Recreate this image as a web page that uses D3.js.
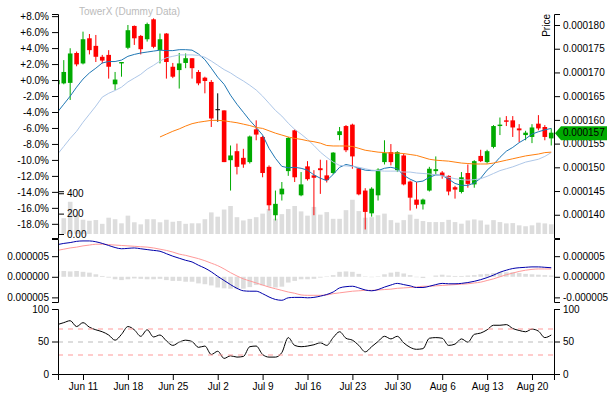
<!DOCTYPE html>
<html>
<head>
<meta charset="utf-8">
<script src="https://cdn.jsdelivr.net/npm/d3@7"></script>
<style>
body { margin: 0; background: #fff; }
svg { font: 10px "Liberation Sans", Arial, sans-serif; }
.tick text { font-family: "Liberation Sans", Arial, sans-serif; }
</style>
</head>
<body>
<script>
// prices are written in millionths
var PRICE_UNIT = 1e-6;

// one candle per day, Jun 7 .. Aug 23
var dates = d3.timeDay.range(new Date(2017, 5, 7), new Date(2017, 7, 24));

var open = [167.5,167.7,167.8,174.1,171.9,177.2,175.6,173.3,173.7,167.5,
  171.9,175.2,179.8,177.7,177.0,181.2,174.7,178.2,171.2,170.5,
  172.0,173.0,170.1,168.9,168.0,162.25,162.0,151.5,153.4,152.0,
  151.1,158.0,156.4,150.1,139.9,144.3,149.2,157.8,144.1,150.2,
  148.3,149.8,148.3,148.8,156.8,158.7,159.0,149.8,145.1,140.3,
  144.1,151.1,153.2,149.4,152.5,147.0,143.2,142.2,145.1,149.2,
  148.9,148.2,145.8,144.8,148.8,146.4,152.4,151.1,154.3,158.7,
  159.9,159.9,158.2,156.8,156.4,159.2,158.5,156.1];
var high = [168.8,172.6,175.1,174.4,178.6,178.1,177.9,173.7,174.7,170.1,
  172.2,180.0,179.9,177.9,180.5,181.4,178.2,178.3,172.0,174.1,
  174.0,173.0,170.5,169.1,168.4,165.6,162.0,154.6,155.0,153.9,
  156.7,159.9,156.6,150.4,145.1,146.9,156.4,158.0,149.0,151.3,
  149.4,151.6,151.5,153.2,158.5,158.9,159.2,149.9,145.6,145.8,
  149.8,155.7,154.9,153.4,152.9,147.2,146.9,143.4,150.1,152.3,
  149.2,148.3,146.1,149.0,150.6,151.5,153.7,153.7,158.9,160.5,
  160.8,160.8,159.1,157.7,159.1,161.0,158.9,158.2];
var low = [167.1,167.5,164.2,171.3,171.7,173.8,172.2,171.9,168.7,166.3,
  169.1,174.9,175.8,173.8,176.5,175.1,171.9,168.7,168.8,166.6,
  170.9,168.7,167.3,165.6,158.5,159.6,151.1,145.1,148.5,149.9,
  150.8,155.7,147.9,140.9,138.8,143.0,148.2,146.9,143.9,147.2,
  139.9,144.4,146.8,148.5,155.7,153.2,149.7,144.1,136.9,139.6,
  143.0,150.6,150.4,149.0,146.2,140.9,141.3,141.1,144.9,148.5,
  147.6,144.1,143.4,144.5,145.7,145.7,151.1,150.8,154.0,156.8,
  158.7,156.4,155.3,155.7,155.1,157.8,155.7,154.6];
var close = [168.4,170.1,174.0,171.7,177.0,174.7,173.3,172.5,171.2,168.5,
  172.2,178.9,177.2,174.9,180.2,175.4,177.0,172.2,169.1,171.9,
  173.0,170.9,167.7,168.2,160.3,162.25,151.1,152.5,150.1,150.6,
  156.5,156.9,148.8,142.0,142.3,145.5,156.2,147.9,146.4,147.5,
  147.8,149.4,147.3,153.1,157.6,153.6,152.3,144.3,140.6,145.5,
  149.5,153.0,151.1,153.2,146.4,143.6,142.1,143.2,149.7,149.6,
  148.2,144.9,145.3,147.9,146.5,151.3,151.3,153.4,158.7,159.0,
  159.6,158.4,157.8,157.3,158.4,158.2,156.4,157.3];
var volume = [100,155,316,190,140,130,137,100,160,145,
  105,180,115,95,145,145,115,140,120,127,
  100,105,105,145,212,170,240,275,165,133,
  148,165,200,245,150,195,245,275,222,180,
  266,190,215,149,149,234,336,225,160,165,
  184,200,136,111,136,190,149,127,117,117,
  117,139,117,101,133,143,133,92,136,117,
  104,107,85,76,85,111,104,95];

// moving averages (millionths)
var sma0 = [161.6,163.3,165.0,166.9,168.6,169.9,170.9,172.0,172.3,172.3,
  172.6,173.4,173.8,174.1,174.3,174.5,174.7,174.6,174.6,174.8,
  174.8,174.7,173.9,172.7,170.9,169.0,167.5,165.2,163.3,161.6,
  159.9,158.4,156.8,154.0,151.9,150.2,149.9,150.0,149.8,149.4,
  148.4,147.7,147.2,148.5,150.0,150.6,150.3,149.8,149.4,149.3,
  149.3,149.8,150.0,149.7,148.3,147.5,146.9,147.1,147.9,148.4,
  148.3,147.5,146.6,146.2,146.2,146.7,147.7,149.4,150.6,152.1,
  153.4,154.2,155.2,156.0,157.0,157.5,157.9,158.2];
var sma1 = [152.7,154.4,156.1,157.6,159.5,161.2,162.9,164.8,165.6,166.2,
  166.9,168.0,168.8,169.6,170.7,171.5,172.4,173.1,173.4,173.7,
  173.7,173.7,173.6,173.2,172.4,171.5,170.6,169.9,169.0,168.2,
  167.3,166.3,165.0,163.5,162.0,160.8,159.3,158.0,157.0,155.9,
  154.6,153.2,152.1,151.1,150.4,150.3,150.2,150.0,149.7,149.4,
  149.3,149.2,149.2,149.2,149.0,149.0,148.8,148.7,148.6,148.4,
  148.2,147.9,147.6,147.4,147.3,147.4,147.6,148.1,148.7,149.3,
  149.7,150.1,150.6,151.1,151.4,151.7,152.3,153.1];
var ema2 = [null,null,null,null,null,null,null,null,null,null,
  null,null,null,null,null,null,156.4,157.0,157.6,158.1,
  158.7,159.2,159.5,159.7,159.9,159.9,159.8,159.6,159.4,159.1,
  158.8,158.4,158.2,157.7,157.2,156.8,156.4,156.1,155.9,155.6,
  155.4,155.1,154.6,154.5,154.5,154.5,154.4,154.0,153.6,153.4,
  153.2,153.1,153.0,153.0,152.9,152.7,152.5,152.1,151.7,151.5,
  151.4,151.3,151.1,150.9,150.8,150.7,150.7,150.7,150.9,151.2,
  151.5,151.8,152.1,152.4,152.6,152.8,153.1,153.2];

// MACD panel (millionths)
var macd = [7.8,8.1,8.3,8.6,8.7,8.7,8.5,8.1,7.6,7.1,
  6.8,6.9,7.0,6.8,6.6,6.4,6.2,5.6,5.0,4.5,
  4.0,3.6,2.8,2.1,1.2,0.1,-0.9,-1.9,-2.8,-3.4,
  -3.5,-3.5,-4.1,-4.9,-5.5,-5.7,-5.1,-5.0,-5.0,-5.1,
  -5.0,-4.7,-4.3,-3.7,-2.7,-2.4,-2.3,-2.7,-3.2,-3.4,
  -3.1,-2.5,-2.0,-1.6,-1.9,-2.2,-2.6,-2.6,-2.3,-1.9,
  -1.6,-1.7,-1.7,-1.6,-1.4,-1.1,-0.7,-0.2,0.4,1.1,
  1.6,2.0,2.2,2.3,2.4,2.4,2.3,2.2];
var signal = [6.4,6.7,7.0,7.2,7.5,7.7,7.9,7.9,7.8,7.7,
  7.6,7.5,7.4,7.3,7.2,7.0,6.7,6.4,6.0,5.5,
  5.2,4.8,4.4,3.9,3.3,2.7,1.9,1.0,0.2,-0.5,
  -1.0,-1.5,-2.0,-2.5,-2.9,-3.3,-3.7,-4.0,-4.4,-4.5,
  -4.5,-4.5,-4.4,-4.1,-3.9,-3.7,-3.5,-3.4,-3.3,-3.3,
  -3.2,-3.1,-3.0,-2.8,-2.7,-2.6,-2.5,-2.3,-2.3,-2.2,
  -2.1,-2.0,-1.9,-1.8,-1.7,-1.5,-1.3,-0.9,-0.5,0.0,
  0.5,0.9,1.3,1.6,1.8,1.9,1.9,1.9];
var difference = [1.4,1.4,1.3,1.4,1.2,1.0,0.6,0.2,-0.2,-0.6,
  -0.8,-0.6,-0.4,-0.5,-0.6,-0.6,-0.5,-0.8,-1.0,-1.0,
  -1.2,-1.2,-1.6,-1.8,-2.1,-2.6,-2.8,-2.9,-3.0,-2.9,
  -2.5,-2.0,-2.1,-2.4,-2.6,-2.4,-1.4,-1.0,-0.6,-0.6,
  -0.5,-0.2,0.1,0.4,1.2,1.3,1.2,0.7,0.1,-0.1,
  0.1,0.6,1.0,1.2,0.8,0.4,-0.1,-0.3,0.0,0.3,
  0.5,0.3,0.2,0.2,0.3,0.4,0.6,0.7,0.9,1.1,
  1.1,1.1,0.9,0.7,0.6,0.5,0.4,0.3];

var rsi = [76,79,82,73,79,72,68,65,60,52,
  61,73,68,58,68,57,60,51,44,49,
  52,50,41,43,30,35,24,28,26,27,
  42,43,30,26,26,33,56,44,42,43,
  45,48,44,56,65,55,52,44,34,42,
  50,58,54,58,48,41,38,39,55,56,
  55,44,46,54,49,61,63,68,75,75,
  76,70,67,65,69,66,56,60];
var rsiLevels = [70, 50, 30];

var title = "TowerX (Dummy Data)";

var locale = d3.formatLocale({decimal: ".", thousands: ",", grouping: [3], currency: ["$", ""], minus: "-"});
var fmtPercent = locale.format("+.1%"),
    fmtPrice = locale.format(",.6f"),
    fmtVolume = locale.format(",.3s");

var width = 616, height = 397;
var plotLeft = 58, plotRight = 554;

var svg = d3.select('body').append('svg')
    .attr('width', width)
    .attr('height', height);

var x = d3.scaleTime()
    .domain([new Date(2017, 5, 7, 2, 24), new Date(2017, 7, 23, 10, 20)])
    .range([plotLeft, plotRight]);

var y = d3.scaleLinear().domain([135.1 * PRICE_UNIT, 182.32 * PRICE_UNIT]).range([238, 14]);
var base = close[0] * PRICE_UNIT;
var yPercent = d3.scaleLinear().domain(y.domain().map(function(d){ return d / base - 1; })).range(y.range());
var yVolume = d3.scaleLinear().domain([0, 420]).range([234, 191.2]);
var yMacd = d3.scaleLinear().domain([-6.12 * PRICE_UNIT, 9.17 * PRICE_UNIT]).range([302, 239]);
var yRsi = d3.scaleLinear().domain([0, 100]).range([374, 309]);

var step = x(dates[1]) - x(dates[0]);
var bw = step * 0.72;

svg.append('clipPath').attr('id', 'clip')
  .append('rect').attr('x', plotLeft).attr('y', 0)
  .attr('width', plotRight - plotLeft).attr('height', height);

var plot = svg.append('g').attr('clip-path', 'url(#clip)');
var idx = d3.range(dates.length);

// volume
plot.append('g').selectAll('rect').data(idx).enter().append('rect')
    .attr('x', function(i){ return x(dates[i]) - bw / 2; })
    .attr('width', bw)
    .attr('y', function(i){ return yVolume(volume[i]); })
    .attr('height', function(i){ return yVolume(0) - yVolume(volume[i]); })
    .attr('fill', '#DDDDDD');

// candles
function candleColor(i) {
  if (close[i] > open[i]) return '#00AA00';
  if (close[i] < open[i]) return '#FF0000';
  return '#000000';
}
var candles = plot.append('g').selectAll('g').data(idx).enter().append('g');
candles.append('line')
    .attr('x1', function(i){ return x(dates[i]); })
    .attr('x2', function(i){ return x(dates[i]); })
    .attr('y1', function(i){ return y(high[i] * PRICE_UNIT); })
    .attr('y2', function(i){ return y(low[i] * PRICE_UNIT); })
    .attr('stroke', candleColor)
    .attr('stroke-width', 1);
candles.append('rect')
    .attr('x', function(i){ return x(dates[i]) - bw / 2; })
    .attr('width', bw)
    .attr('y', function(i){ return y(Math.max(open[i], close[i]) * PRICE_UNIT); })
    .attr('height', function(i){
      return Math.max(1, y(Math.min(open[i], close[i]) * PRICE_UNIT) - y(Math.max(open[i], close[i]) * PRICE_UNIT));
    })
    .attr('fill', candleColor);

// moving averages
function priceLine(values) {
  return d3.line()
    .defined(function(i){ return values[i] != null; })
    .x(function(i){ return x(dates[i]); })
    .y(function(i){ return y(values[i] * PRICE_UNIT); });
}
[[sma0, '#1f77b4'], [sma1, '#aec7e8'], [ema2, '#ff7f0e']].forEach(function(s){
  plot.append('path').attr('d', priceLine(s[0])(idx))
      .attr('fill', 'none').attr('stroke', s[1]).attr('stroke-width', 1);
});

// MACD
plot.append('g').selectAll('rect').data(idx).enter().append('rect')
    .attr('x', function(i){ return x(dates[i]) - bw / 2; })
    .attr('width', bw)
    .attr('y', function(i){ return yMacd(Math.max(0, difference[i]) * PRICE_UNIT); })
    .attr('height', function(i){ return Math.abs(yMacd(difference[i] * PRICE_UNIT) - yMacd(0)); })
    .attr('fill', '#BBBBBB').attr('opacity', 0.5);

var macdLine = function(values) {
  return d3.line()
    .x(function(i){ return x(dates[i]); })
    .y(function(i){ return yMacd(values[i] * PRICE_UNIT); })
    .curve(d3.curveMonotoneX);
};
plot.append('path').attr('d', macdLine(signal)(idx))
    .attr('fill', 'none').attr('stroke', '#FF9999').attr('stroke-width', 1);
plot.append('path').attr('d', macdLine(macd)(idx))
    .attr('fill', 'none').attr('stroke', '#0000AA').attr('stroke-width', 1);

// RSI
rsiLevels.forEach(function(v){
  svg.append('line')
      .attr('x1', plotLeft).attr('x2', plotRight)
      .attr('y1', yRsi(v) + 0.5).attr('y2', yRsi(v) + 0.5)
      .attr('stroke', v == 50 ? '#BBBBBB' : '#FF9999')
      .attr('stroke-dasharray', '5,5');
});
plot.append('path')
    .attr('d', d3.line()
      .x(function(i){ return x(dates[i]); })
      .y(function(i){ return yRsi(rsi[i]); })
      .curve(d3.curveMonotoneX)(idx))
    .attr('fill', 'none').attr('stroke', '#000').attr('stroke-width', 1);

// axes
function styleAxis(g) {
  g.attr('font-family', '"Liberation Sans", Arial, sans-serif').attr('font-size', 10);
  return g;
}
styleAxis(svg.append('g').attr('transform', 'translate(' + plotLeft + ',0)')
    .call(d3.axisLeft(yPercent).tickFormat(fmtPercent)));
styleAxis(svg.append('g').attr('transform', 'translate(' + plotLeft + ',0)')
    .call(d3.axisRight(yVolume).ticks(2).tickFormat(fmtVolume)));
var priceAxis = styleAxis(svg.append('g').attr('transform', 'translate(' + plotRight + ',0)')
    .call(d3.axisRight(y).tickFormat(fmtPrice)));
priceAxis.append('text')
    .attr('transform', 'rotate(-90)')
    .attr('x', -y.range()[1])
    .attr('y', -11)
    .attr('dy', '.71em')
    .attr('fill', '#000')
    .style('text-anchor', 'end')
    .text('Price');

// the left MACD axis in the reference prints magnitudes only
styleAxis(svg.append('g').attr('transform', 'translate(' + plotLeft + ',0)')
    .call(d3.axisLeft(yMacd).ticks(3).tickFormat(function(d){ return fmtPrice(Math.abs(d)); })));
styleAxis(svg.append('g').attr('transform', 'translate(' + plotRight + ',0)')
    .call(d3.axisRight(yMacd).ticks(3).tickFormat(fmtPrice)));
styleAxis(svg.append('g').attr('transform', 'translate(' + plotLeft + ',0)')
    .call(d3.axisLeft(yRsi).ticks(3)));
styleAxis(svg.append('g').attr('transform', 'translate(' + plotRight + ',0)')
    .call(d3.axisRight(yRsi).ticks(3)));
styleAxis(svg.append('g').attr('transform', 'translate(0,' + yRsi(0) + ')')
    .call(d3.axisBottom(x).ticks(d3.timeWeek.every(1)).tickFormat(d3.timeFormat('%b %-d'))));

// close annotation
var last = close.length - 1;
var yc = y(close[last] * PRICE_UNIT) + 0.5;
var ann = svg.append('g');
ann.append('path')
    .attr('d', 'M' + (plotRight + 1) + ',' + yc + 'l6,-7h46v14h-46z')
    .attr('fill', candleColor(last));
ann.append('text')
    .attr('x', plotRight + 9).attr('y', yc).attr('dy', '.32em')
    .attr('font-size', 10).attr('fill', '#000')
    .text(fmtPrice(close[last] * PRICE_UNIT));

// title
svg.append('text')
    .attr('x', plotLeft + 21).attr('y', 14.5)
    .attr('fill', '#BBBBBB').attr('font-size', 10)
    .text(title);
</script>
</body>
</html>
